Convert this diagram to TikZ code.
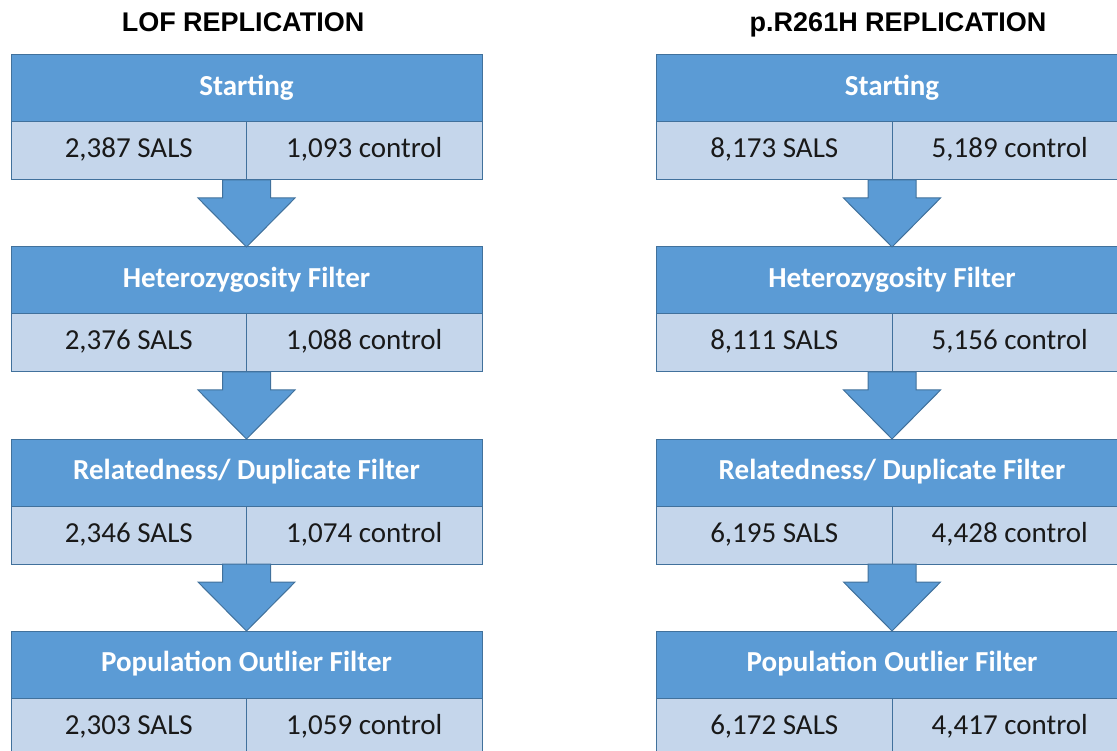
\documentclass[tikz,border=0pt]{standalone}
\usepackage{fontspec}
\setmainfont{Carlito}
\newfontfamily\titlefont{Liberation Sans}
\usetikzlibrary{positioning,calc}

\definecolor{hdrblue}{HTML}{5B9BD5}
\definecolor{cellblue}{HTML}{C5D6EB}
\definecolor{edgeblue}{HTML}{41719C}

\tikzset{
  header/.style={draw=edgeblue, fill=hdrblue, line width=1pt, minimum width=471pt,
    minimum height=67pt, inner sep=0pt, outer sep=0pt, anchor=north, text=white,
    text height=20pt, text depth=6pt, font=\fontsize{29}{30}\selectfont\bfseries},
  cell/.style={draw=edgeblue, fill=cellblue, line width=1pt, minimum width=235.5pt,
    minimum height=58pt, inner sep=0pt, outer sep=0pt, text=black!90,
    text height=20pt, text depth=6pt, font=\fontsize{29}{30}\selectfont},
  title/.style={anchor=base, inner sep=0pt, font=\titlefont\fontsize{27}{29}\selectfont\bfseries},
  blockarrow/.style={draw=edgeblue, fill=hdrblue, line width=1pt, line join=miter}
}

% block arrow from the bottom of one step to the top of the next
\newcommand{\flowarrow}[2]{%
  \draw[blockarrow] ($(#1)+(-24,0)$) -- ($(#1)+(24,0)$) -- ($(#1)+(24,-18)$)
    -- ($(#1)+(48.5,-18)$) -- (#2) -- ($(#1)+(-48.5,-18)$)
    -- ($(#1)+(-24,-18)$) -- cycle;}

\begin{document}
\begin{tikzpicture}[x=1pt,y=1pt]
\useasboundingbox (0,0) rectangle (1117,-751);

% LOF replication
\node[title] (ltitle) at (243,-32) {LOF REPLICATION};
\node[header] (lstart) at (246.5,-55) {Starting};
\node[cell, below right=0pt of lstart.south west] (lstartS) {2,387 SALS};
\node[cell, right=0pt of lstartS] (lstartC) {1,093 control};
\node[header] (lhet) at (246.5,-247) {Heterozygosity Filter};
\node[cell, below right=0pt of lhet.south west] (lhetS) {2,376 SALS};
\node[cell, right=0pt of lhetS] (lhetC) {1,088 control};
\node[header] (lrel) at (246.5,-439) {Relatedness/ Duplicate Filter};
\node[cell, below right=0pt of lrel.south west] (lrelS) {2,346 SALS};
\node[cell, right=0pt of lrelS] (lrelC) {1,074 control};
\node[header] (lpop) at (246.5,-631) {Population Outlier Filter};
\node[cell, below right=0pt of lpop.south west] (lpopS) {2,303 SALS};
\node[cell, right=0pt of lpopS] (lpopC) {1,059 control};
\flowarrow{lstartS.south east}{lhet.north}
\flowarrow{lhetS.south east}{lrel.north}
\flowarrow{lrelS.south east}{lpop.north}

% p.R261H replication
\node[title] (rtitle) at (898,-32) {p.R261H REPLICATION};
\node[header] (rstart) at (892,-55) {Starting};
\node[cell, below right=0pt of rstart.south west] (rstartS) {8,173 SALS};
\node[cell, right=0pt of rstartS] (rstartC) {5,189 control};
\node[header] (rhet) at (892,-247) {Heterozygosity Filter};
\node[cell, below right=0pt of rhet.south west] (rhetS) {8,111 SALS};
\node[cell, right=0pt of rhetS] (rhetC) {5,156 control};
\node[header] (rrel) at (892,-439) {Relatedness/ Duplicate Filter};
\node[cell, below right=0pt of rrel.south west] (rrelS) {6,195 SALS};
\node[cell, right=0pt of rrelS] (rrelC) {4,428 control};
\node[header] (rpop) at (892,-631) {Population Outlier Filter};
\node[cell, below right=0pt of rpop.south west] (rpopS) {6,172 SALS};
\node[cell, right=0pt of rpopS] (rpopC) {4,417 control};
\flowarrow{rstartS.south east}{rhet.north}
\flowarrow{rhetS.south east}{rrel.north}
\flowarrow{rrelS.south east}{rpop.north}
\end{tikzpicture}
\end{document}
